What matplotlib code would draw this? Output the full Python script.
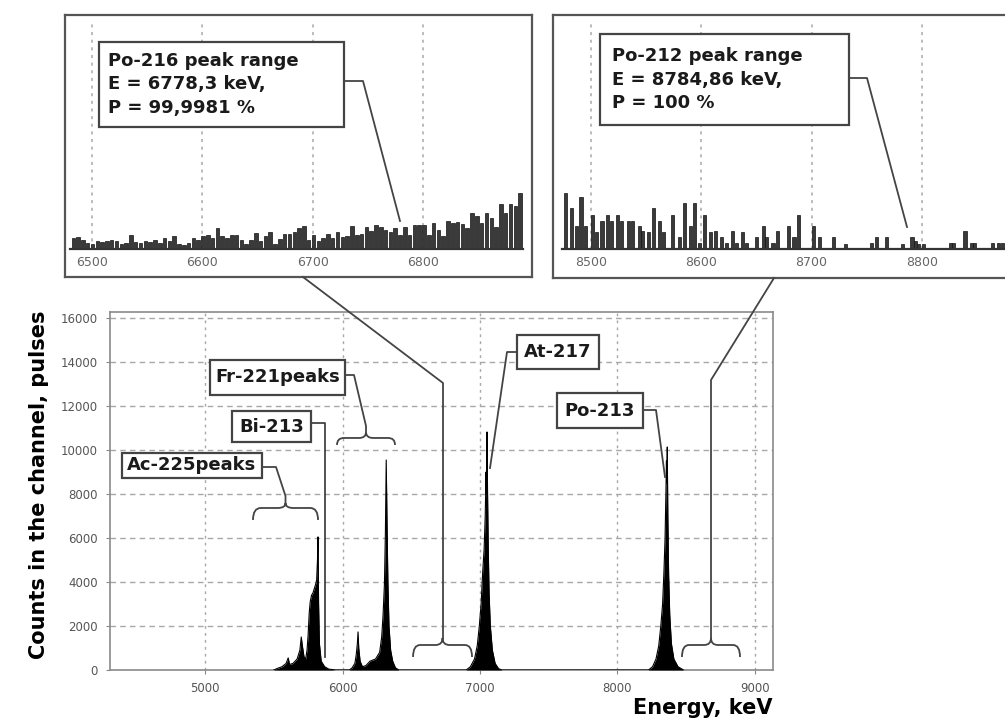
import numpy as np
import matplotlib
matplotlib.use('Agg')
import matplotlib.pyplot as plt
from matplotlib.patches import Rectangle, PathPatch
from matplotlib.path import Path
from matplotlib.lines import Line2D

W, H = 1005, 726

# --- main spectrum: energy (keV) / counts per channel
spec_energy = [5500, 5530, 5560, 5590, 5605, 5615, 5640, 5670, 5690, 5700, 5708,
               5720, 5732, 5742, 5750, 5758, 5765, 5775, 5785, 5795, 5805, 5812,
               5818, 5822, 5826, 5832, 5845, 5870, 5900, 5950,
               6050, 6070, 6090, 6100, 6108, 6113, 6118, 6128, 6145, 6170, 6200,
               6240, 6270, 6285, 6295, 6305, 6312, 6318, 6323, 6330, 6338, 6350,
               6365, 6385, 6410,
               6900, 6930, 6960, 6980, 6995, 7008, 7020, 7030, 7038, 7044, 7047,
               7051, 7055, 7060, 7066, 7075, 7090, 7110, 7135, 7160,
               8225, 8255, 8280, 8300, 8315, 8328, 8338, 8346, 8352, 8356, 8359,
               8362, 8366, 8372, 8380, 8392, 8410, 8440, 8480]
spec_counts = [0, 80, 150, 300, 550, 250, 300, 500, 900, 1500, 1100,
               600, 500, 900, 1600, 2600, 3100, 3400, 3500, 3700, 3900, 4100,
               5000, 6050, 3000, 1200, 400, 150, 40, 0,
               0, 100, 300, 700, 1200, 1730, 1000, 400, 150, 200, 400,
               500, 800, 1500, 2500, 3900, 6270, 9545, 7000, 4000, 2000, 900,
               400, 100, 0,
               0, 150, 500, 1100, 2000, 3000, 4500, 5500, 7000, 9000, 8000,
               10818, 8000, 5500, 3500, 2000, 900, 300, 60, 0,
               0, 150, 500, 1100, 2000, 3000, 4500, 6000, 8000, 9500, 8500,
               10136, 7000, 4300, 2500, 1200, 500, 150, 0]

main_xticks = [5000, 6000, 7000, 8000, 9000]
main_yticks = [0, 2000, 4000, 6000, 8000, 10000, 12000, 14000, 16000]

# --- Po-216 window (channel calibration + counts per channel)
po216_e0 = 6483.0
po216_gain = 4.355
po216_counts = [11, 12, 9, 6, 5, 8, 7, 8, 9, 8, 5, 6, 14, 7, 6, 8, 7, 9, 6, 11,
                8, 13, 5, 4, 6, 11, 9, 13, 14,
                11, 21, 13, 11, 14, 14, 9, 5, 9, 16, 8, 13, 17, 5, 10, 15, 15,
                17, 21, 23, 9, 14,
                8, 11, 15, 11, 17, 12, 13, 23, 14, 15, 22, 18, 24, 22, 19, 17,
                21, 14, 22, 14, 24, 24,
                24, 14, 26, 19, 13, 28, 26, 27, 25, 21, 36, 33, 26, 36, 31, 22,
                45, 36, 45, 43, 56]
po216_ticks = [6500, 6600, 6700, 6800]

# --- Po-212 window
po212_energy = [8477, 8482, 8487, 8491, 8495, 8501, 8505, 8510, 8515, 8519, 8524,
                8528, 8534, 8538, 8544, 8547, 8552, 8557, 8562, 8566, 8574, 8580,
                8585, 8590, 8594, 8598, 8603, 8608, 8613, 8618, 8623, 8628, 8632,
                8637, 8641, 8650, 8656, 8659, 8665, 8669, 8679, 8684, 8688, 8702,
                8707, 8720, 8731, 8754, 8759, 8768, 8782, 8791, 8794, 8797, 8801,
                8826, 8829, 8839, 8845, 8848, 8864, 8869, 8873]
po212_counts = [56, 41, 23, 52, 23, 34, 17, 28, 34, 28, 34,
                28, 28, 28, 23, 18, 17, 41, 28, 17, 34, 12,
                46, 23, 46, 6, 34, 17, 18, 12, 6, 18, 6,
                17, 6, 12, 23, 12, 6, 18, 23, 12, 34, 23,
                12, 12, 5, 6, 12, 12, 5, 12, 8, 5, 5,
                6, 6, 18, 6, 6, 6, 6, 6]
po212_ticks = [8500, 8600, 8700, 8800]

plt.rcParams['font.family'] = 'DejaVu Sans'

fig = plt.figure(figsize=(W / 100, H / 100), dpi=100)


def fxy(px, py):
    return px / W, 1 - py / H


def leader(pts):
    xs = [p[0] / W for p in pts]
    ys = [1 - p[1] / H for p in pts]
    fig.add_artist(Line2D(xs, ys, transform=fig.transFigure, color='#444',
                          lw=1.3, zorder=20))


def label_box(x0, y0, x1, y1, text, left=None):
    fig.add_artist(Rectangle(fxy(x0, y1), (x1 - x0) / W, (y1 - y0) / H,
                             transform=fig.transFigure, facecolor='white',
                             edgecolor='#444', lw=1.6, zorder=21))
    cy = 1 - (y0 + y1) / 2 / H
    if left is None:
        fig.text((x0 + x1) / 2 / W, cy, text, ha='center', va='center',
                 fontsize=13, fontweight='bold', color='#1a1a1a', zorder=22)
    else:
        fig.text(left / W, cy, text, ha='left', va='center', fontsize=13,
                 fontweight='bold', color='#1a1a1a', linespacing=1.42,
                 zorder=22)


def brace(ax, x0, x1, y_end, y_flat, y_tip):
    xm = (x0 + x1) / 2
    r = 0.12 * (x1 - x0)
    verts = [(x0, y_end), (x0, y_flat), (x0 + r, y_flat),
             (xm - r, y_flat), (xm, y_flat), (xm, y_tip),
             (xm, y_flat), (xm + r, y_flat),
             (x1 - r, y_flat), (x1, y_flat), (x1, y_end)]
    codes = [Path.MOVETO, Path.CURVE3, Path.CURVE3,
             Path.LINETO, Path.CURVE3, Path.CURVE3,
             Path.CURVE3, Path.CURVE3,
             Path.LINETO, Path.CURVE3, Path.CURVE3]
    ax.add_patch(PathPatch(Path(verts, codes), facecolor='none',
                           edgecolor='#444', lw=1.3, zorder=5))


# ---------------- main spectrum
ax = fig.add_axes([110 / W, 1 - 670 / H, 663 / W, 358 / H])
ax.fill_between(spec_energy, spec_counts, color='black', lw=0, zorder=3)
ax.plot(spec_energy, spec_counts, color='black', lw=0.8, zorder=3)
ax.set_xlim(4309, 9131)
ax.set_ylim(0, 16270)
ax.set_xticks(main_xticks)
ax.set_yticks(main_yticks)
ax.set_axisbelow(True)
ax.xaxis.grid(True, color='#a8a8a8', linestyle=(0, (2, 3)), lw=1)
ax.yaxis.grid(True, color='#a8a8a8', linestyle=(0, (4, 3)), lw=1)
for s in ax.spines.values():
    s.set_color('#8a8a8a')
    s.set_linewidth(1.2)
ax.tick_params(labelsize=8.5, labelcolor='#555', color='#888', length=3,
               pad=6)

brace(ax, 5349, 5822, 6818, 7363, 7590)
brace(ax, 5960, 6382, 10227, 10545, 10818)
brace(ax, 6513, 6942, 590, 1136, 1455)
brace(ax, 8469, 8891, 590, 1136, 1455)

fig.text(39 / W, 1 - 485 / H, 'Counts in the channel, pulses', rotation=90,
         ha='center', va='center', fontsize=15, fontweight='bold')
fig.text(772 / W, 1 - 708 / H, 'Energy, keV', ha='right', va='center',
         fontsize=15, fontweight='bold')


# ---------------- insets
def inset(rect, xlim, ylim, energy, counts, width, ticks, base):
    a = fig.add_axes(rect)
    a.set_xlim(*xlim)
    a.set_ylim(*ylim)
    a.vlines(ticks, 0, ylim[1] - 5, color='#a8a8a8', linestyle=(0, (2, 3)),
             lw=1.1, zorder=1)
    a.bar(energy, counts, width=width, color='#3a3a3a', edgecolor='#111',
          lw=0.5, zorder=3)
    a.plot(base, [0, 0], color='#333', lw=1.6, zorder=4)
    for t in ticks:
        a.text(t, -13, str(t), ha='center', va='center', fontsize=9,
               color='#666')
    a.set_xticks([])
    a.set_yticks([])
    for s in a.spines.values():
        s.set_color('#555')
        s.set_linewidth(1.6)
    return a


po216_energy = po216_e0 + po216_gain * np.arange(len(po216_counts))
inset([65 / W, 1 - 277 / H, 467 / W, 262 / H], (6475.5, 6898.8), (-28, 234),
      po216_energy, po216_counts, 3.2, po216_ticks, [6480, 6891])
inset([553 / W, 1 - 278 / H, 487 / W, 263 / H], (8465.6, 8907.0), (-29, 234),
      po212_energy, po212_counts, 2.8, po212_ticks, [8474, 8907])

# ---------------- callouts
label_box(99, 42, 344, 127, 'Po-216 peak range\nE = 6778,3 keV,\nP = 99,9981 %',
          left=108)
label_box(600, 34, 849, 125, 'Po-212 peak range\nE = 8784,86 keV,\nP = 100 %',
          left=612)
leader([(344, 81), (363, 81), (400, 221)])
leader([(849, 78), (867, 78), (907, 227)])
leader([(303, 277), (443, 383), (443, 638)])
leader([(774, 278), (711, 380), (711, 638)])

label_box(122, 453, 262, 478, 'Ac-225peaks')
label_box(232, 411, 311, 442, 'Bi-213')
label_box(210, 360, 345, 395, 'Fr-221peaks')
label_box(517, 335, 599, 369, 'At-217')
label_box(557, 393, 643, 428, 'Po-213')
leader([(262, 467), (276, 467), (285.5, 496), (285.5, 503)])
leader([(311, 423), (325, 423), (325, 657)])
leader([(345, 375), (354, 375), (366, 426), (366, 432)])
leader([(517, 352), (507, 352), (490, 468)])
leader([(643, 410), (656, 410), (665, 477)])

fig.savefig('out.png', dpi=100)
